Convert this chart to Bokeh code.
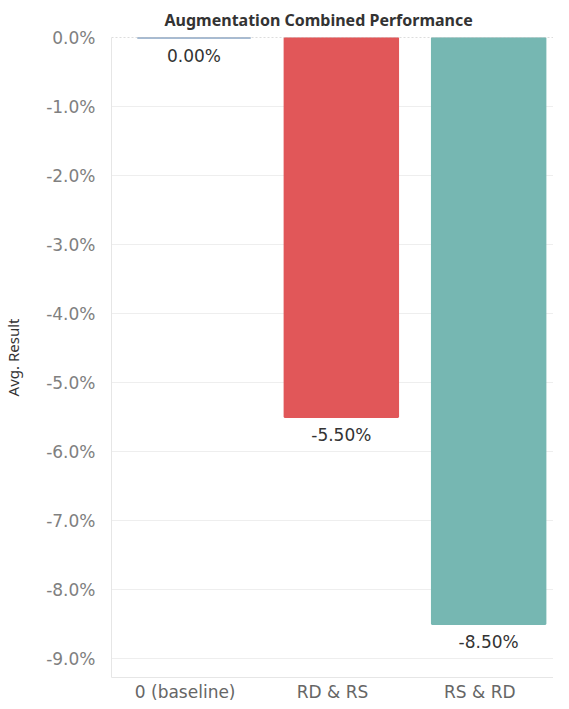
from bokeh.plotting import figure
from bokeh.models import ColumnDataSource, Range1d, FactorRange, NumeralTickFormatter, SingleIntervalTicker, Span, LabelSet
from bokeh.transform import dodge
from bokeh.core.properties import value
from bokeh.embed import file_html
from bokeh.resources import INLINE

categories = ["0 (baseline)", "RD & RS", "RS & RD"]
values = [0.0, -0.055, -0.085]
colors = ["#4E79A7", "#E15759", "#76B7B2"]
value_labels = [f"{v*100:.2f}%" for v in values]

FONT = "DejaVu Sans"
TITLE_FONT = "Noto Sans"

source = ColumnDataSource(dict(cat=categories, val=values, color=colors, lbl=value_labels))

p = figure(width=553, frame_height=640, output_backend="svg", toolbar_location=None,
           title="Augmentation Combined Performance",
           x_range=FactorRange(*categories, range_padding=0),
           y_range=Range1d(-0.09275, 0.0),
           min_border_left=102, min_border_right=0, min_border_top=0, min_border_bottom=0)

p.title.align = "left"
p.title.offset = 53
p.title.standoff = 13
p.title.text_font = TITLE_FONT
p.title.text_font_size = "16px"
p.title.text_font_style = "bold"
p.title.text_color = "#333333"

xpos = dodge("cat", 0.06, range=p.x_range)

p.vbar(x=xpos, top="val", bottom=0, width=0.77,
       fill_color="color", line_color="color", line_width=2, source=source)

p.add_layout(Span(location=0, dimension="width", line_color="#bbbbbb", line_dash="2 2", line_width=1))

labels = LabelSet(x=xpos, y="val", text="lbl", source=source,
                  text_align="center", text_baseline="top", y_offset=-8,
                  text_font=value(FONT), text_font_size=value("17px"), text_color=value("#333333"))
p.add_layout(labels)

p.yaxis.ticker = SingleIntervalTicker(interval=0.01)
p.yaxis.formatter = NumeralTickFormatter(format="0.0%")
p.yaxis.axis_label = "Avg. Result"
p.yaxis.axis_label_text_font = TITLE_FONT
p.yaxis.axis_label_text_font_size = "15px"
p.yaxis.axis_label_text_font_style = "normal"
p.yaxis.axis_label_text_color = "#333333"
p.yaxis.axis_label_standoff = 20
p.yaxis.major_label_text_font = FONT
p.yaxis.major_label_text_font_size = "17px"
p.yaxis.major_label_text_color = "#808080"
p.yaxis.major_tick_line_color = None
p.yaxis.minor_tick_line_color = None
p.yaxis.major_tick_out = 0
p.yaxis.axis_line_color = "#e6e6e6"
p.yaxis.major_label_standoff = 12

p.xaxis.major_label_text_font = FONT
p.xaxis.major_label_text_font_size = "17px"
p.xaxis.major_label_text_color = "#666666"
p.xaxis.major_tick_line_color = None
p.xaxis.major_tick_out = 0
p.xaxis.axis_line_color = "#e6e6e6"
p.xaxis.major_label_standoff = 4
p.xaxis.axis_label_standoff = 0

p.xgrid.grid_line_color = None
p.ygrid.grid_line_color = "#eeeeee"
p.outline_line_color = None

open("out.html", "w").write(file_html(p, INLINE))
